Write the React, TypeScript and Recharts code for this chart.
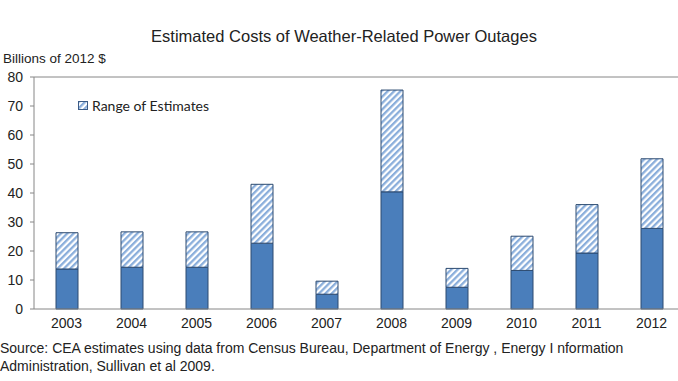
import { BarChart, Bar, XAxis, YAxis, ReferenceLine } from "recharts";

const years = ["2003", "2004", "2005", "2006", "2007", "2008", "2009", "2010", "2011", "2012"];
const lowEstimate = [13.8, 14.4, 14.4, 22.7, 5.1, 40.4, 7.5, 13.3, 19.3, 27.8];
const highEstimate = [26.3, 26.6, 26.6, 43.0, 9.6, 75.5, 14.0, 25.1, 36.0, 51.8];
const yTicks = [0, 10, 20, 30, 40, 50, 60, 70, 80];

const data = years.map((year, i) => ({
  year,
  low: lowEstimate[i],
  range: Math.round((highEstimate[i] - lowEstimate[i]) * 10) / 10,
}));

const FONT = "'Liberation Sans', Arial, sans-serif";

function HatchDefs({ id }: { id: string }) {
  return (
    <defs>
      <pattern id={id} patternUnits="userSpaceOnUse" width="4.5" height="4.5" patternTransform="rotate(45)">
        <rect width="4.5" height="4.5" fill="#ffffff" />
        <rect width="2.3" height="4.5" fill="#8aaedb" />
      </pattern>
    </defs>
  );
}

// legend sits inside the plot area, so keep it out of recharts' layout
function RangeLegend() {
  return (
    <div
      style={{
        position: "absolute",
        left: 78,
        top: 97,
        display: "flex",
        alignItems: "center",
        fontFamily: "Lato, 'Open Sans', sans-serif",
        fontSize: 14,
        color: "#222",
      }}
    >
      <svg width={10} height={9} style={{ marginRight: 4 }}>
        <HatchDefs id="hatchLegend" />
        <rect x={0.5} y={0.5} width={9} height={8} fill="url(#hatchLegend)" stroke="#3b5b86" />
      </svg>
      Range of Estimates
    </div>
  );
}

export default function App() {
  return (
    <div style={{ position: "absolute", left: 0, top: 0, width: 678, height: 381, overflow: "hidden", background: "#fff" }}>
      <div style={{ position: "absolute", top: 27, left: 0, width: 688, textAlign: "center", fontFamily: FONT, fontSize: 16.5, color: "#222" }}>
        Estimated Costs of Weather-Related Power Outages
      </div>
      <div style={{ position: "absolute", top: 51, left: 3, fontFamily: FONT, fontSize: 13.5, color: "#222" }}>
        Billions of 2012 $
      </div>
      <BarChart width={690} height={381} data={data} margin={{ top: 77, right: 6, left: 0, bottom: 0 }}>
        <HatchDefs id="hatch" />
        <ReferenceLine y={80} stroke="#868686" strokeWidth={1} />
        <XAxis
          dataKey="year"
          height={72}
          axisLine={{ stroke: "#868686" }}
          tickLine={false}
          tickSize={0}
          tickMargin={9}
          interval={0}
          tick={{ fontSize: 14, fontFamily: FONT, fill: "#222" }}
        />
        <YAxis
          width={34}
          domain={[0, 80]}
          ticks={yTicks}
          interval={0}
          axisLine={{ stroke: "#868686" }}
          tickLine={{ stroke: "#868686" }}
          tickSize={4}
          tickMargin={7}
          tick={{ fontSize: 14, fontFamily: FONT, fill: "#222" }}
        />
        <Bar dataKey="low" stackId="a" barSize={22} fill="#4a7ebb" stroke="#2c4a70" strokeWidth={1} isAnimationActive={false} />
        <Bar dataKey="range" stackId="a" barSize={22} fill="url(#hatch)" stroke="#2c4a70" strokeWidth={1} isAnimationActive={false} />
      </BarChart>
      <RangeLegend />
      <div style={{ position: "absolute", top: 339, left: 0, fontFamily: FONT, fontSize: 14, lineHeight: "18px", color: "#222", width: 678 }}>
        Source: CEA estimates using data from Census Bureau, Department of Energy , Energy I nformation
        <br />
        Administration, Sullivan et al 2009.
      </div>
    </div>
  );
}
